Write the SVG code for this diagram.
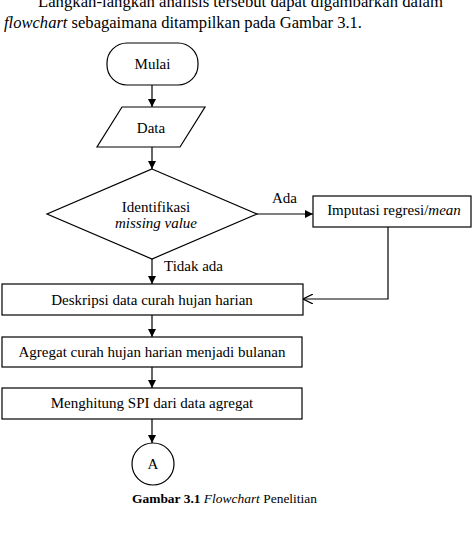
<svg xmlns="http://www.w3.org/2000/svg" width="475" height="541" viewBox="0 0 475 541" font-family="Liberation Serif, Times New Roman, serif">
<style>
.n{font-size:15px;text-anchor:middle}
.s{fill:#fff;stroke:#000;stroke-width:1.2}
.c{fill:none;stroke:#000;stroke-width:1.2}
.h{font-size:17px}
</style>
<defs>
<marker id="ar" viewBox="0 0 10 10" refX="10" refY="5" markerWidth="8" markerHeight="8" markerUnits="userSpaceOnUse" orient="auto"><path d="M0,0L10,5L0,10z" fill="#000"/></marker>
<marker id="op" viewBox="0 0 10 10" refX="10" refY="5" markerWidth="10" markerHeight="10" markerUnits="userSpaceOnUse" orient="auto"><path d="M0,0L10,5L0,10" fill="none" stroke="#000" stroke-width="1.2"/></marker>
</defs>
<text class="h" x="38" y="7" textLength="405" lengthAdjust="spacingAndGlyphs">Langkah-langkah analisis tersebut dapat digambarkan dalam</text>
<text class="h" x="4" y="28" textLength="358" lengthAdjust="spacingAndGlyphs"><tspan font-style="italic">flowchart</tspan> sebagaimana ditampilkan pada Gambar 3.1.</text>
<g id="connectors">
<line class="c" x1="152" y1="85" x2="152" y2="107" marker-end="url(#ar)"/>
<line class="c" x1="152" y1="147" x2="152" y2="169" marker-end="url(#ar)"/>
<line class="c" x1="257" y1="214" x2="313" y2="214" marker-end="url(#ar)"/>
<polyline class="c" points="388,227 388,299 303,299" marker-end="url(#op)"/>
<line class="c" x1="152" y1="259" x2="152" y2="284" marker-end="url(#ar)"/>
<line class="c" x1="152" y1="315" x2="152" y2="337" marker-end="url(#ar)"/>
<line class="c" x1="152" y1="367" x2="152" y2="388" marker-end="url(#ar)"/>
<line class="c" x1="152" y1="419" x2="152" y2="443" marker-end="url(#ar)"/>
<text x="272" y="203" font-size="15">Ada</text>
<text x="164" y="271" font-size="15">Tidak ada</text>
</g>
<g id="mulai"><rect class="s" x="107" y="43" width="91" height="42" rx="20"/><text class="n" x="152.5" y="69">Mulai</text></g>
<g id="data"><polygon class="s" points="122,107 205,107 180,147 97,147"/><text class="n" x="151" y="133">Data</text></g>
<g id="identifikasi"><polygon class="s" points="152,169 257,214 152,259 47,214"/><text class="n" x="156" y="212">Identifikasi</text><text class="n" x="156" y="228" font-style="italic">missing value</text></g>
<g id="imputasi"><rect class="s" x="313" y="196" width="158" height="31"/><text class="n" x="394" y="215">Imputasi regresi/<tspan font-style="italic">mean</tspan></text></g>
<g id="deskripsi"><rect class="s" x="2" y="284" width="301" height="31"/><text class="n" x="152" y="305">Deskripsi data curah hujan harian</text></g>
<g id="agregat"><rect class="s" x="2" y="337" width="300" height="30"/><text class="n" x="152" y="357">Agregat curah hujan harian menjadi bulanan</text></g>
<g id="menghitung"><rect class="s" x="2" y="388" width="300" height="31"/><text class="n" x="152" y="408">Menghitung SPI dari data agregat</text></g>
<g id="a"><circle class="s" cx="153" cy="464" r="21"/><text class="n" x="153" y="469">A</text></g>
<text x="132" y="503" font-size="13" textLength="185" lengthAdjust="spacingAndGlyphs"><tspan font-weight="bold">Gambar 3.1</tspan> <tspan font-style="italic">Flowchart</tspan> Penelitian</text>
</svg>
